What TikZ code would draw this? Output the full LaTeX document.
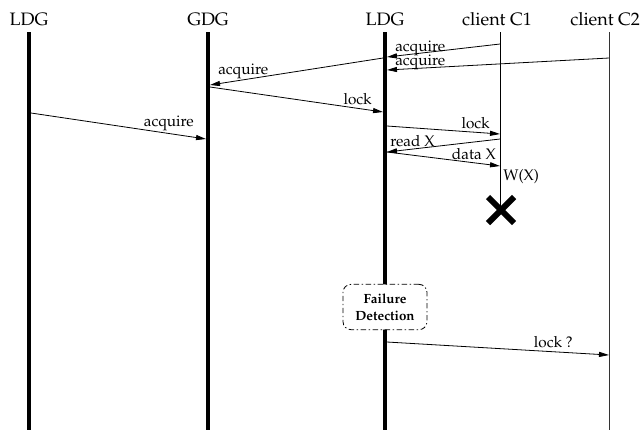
\documentclass[tikz,border=0pt]{standalone}
\usepackage[T1]{fontenc}
\usepackage{mathpazo}
\usetikzlibrary{arrows.meta,positioning}

\begin{document}
\begin{tikzpicture}[
    x=0.75pt, y=-0.75pt,
    lifeline/.style={line width=3pt},
    clientline/.style={line width=0.7pt},
    msg/.style={-{Triangle[length=7.5pt,width=3.8pt]}, line width=0.6pt},
    head/.style={font=\fontsize{13.5}{16}\selectfont, anchor=base, inner sep=0pt},
    lbl/.style={font=\fontsize{11.5}{13}\selectfont, inner sep=0pt},
    detect/.style={draw, dash pattern=on 4pt off 2pt on 1pt off 2pt, rounded corners=6pt,
        line width=0.6pt, fill=white, align=center, minimum width=63pt, minimum height=34pt,
        inner sep=2pt, font=\fontsize{10}{12.5}\selectfont\bfseries},
    crash/.style={line width=4.5pt}
]
\useasboundingbox (0,0) rectangle (641,430);

% Lifeline heads
\node[head] (ldgA) at (29,25) {LDG};
\node[head] (gdg) at (208,25) {GDG};
\node[head] (ldgB) at (385,25) {LDG};
\node[head] (cOne) at (497,25) {client C1};
\node[head, anchor=base west] (cTwo) at (570,25) {client C2};

% Lifelines
\coordinate (ldgA-top) at (29,32);   \coordinate (ldgA-bot) at (29,430);
\coordinate (gdg-top) at (208,32);   \coordinate (gdg-bot) at (208,430);
\coordinate (ldgB-top) at (385,32);  \coordinate (ldgB-bot) at (385,430);
\coordinate (cOne-top) at (500,32);  \coordinate (cOne-bot) at (500,210);
\coordinate (cTwo-top) at (609,32);  \coordinate (cTwo-bot) at (609,430);
\draw[lifeline] (ldgA-top) -- (ldgA-bot);
\draw[lifeline] (gdg-top) -- (gdg-bot);
\draw[lifeline] (ldgB-top) -- (ldgB-bot);
\draw[clientline] (cOne-top) -- (cOne-bot);
\draw[clientline, black!80] (cTwo-top) -- (cTwo-bot);

% Message end points
\coordinate (acqOne-s) at (500,44);  \coordinate (acqOne-e) at (387,57);
\coordinate (acqTwo-s) at (609,58);  \coordinate (acqTwo-e) at (387,70);
\coordinate (acqG-s) at (383,58);    \coordinate (acqG-e) at (210,85);
\coordinate (lockG-s) at (210,87);   \coordinate (lockG-e) at (383,112);
\coordinate (acqA-s) at (31,113);    \coordinate (acqA-e) at (206,139);
\coordinate (lockC-s) at (387,126);  \coordinate (lockC-e) at (500,134);
\coordinate (read-s) at (500,139);   \coordinate (read-e) at (387,152);
\coordinate (data-s) at (387,152);   \coordinate (data-e) at (500,166);
\coordinate (lockQ-s) at (387,342);  \coordinate (lockQ-e) at (609,355);

% Messages
\draw[msg] (acqOne-s) -- (acqOne-e);
\draw[msg] (acqTwo-s) -- (acqTwo-e);
\draw[msg] (acqG-s) -- (acqG-e);
\draw[msg] (lockG-s) -- (lockG-e);
\draw[msg] (acqA-s) -- (acqA-e);
\draw[msg] (lockC-s) -- (lockC-e);
\draw[msg] (read-s) -- (read-e);
\draw[msg] (data-s) -- (data-e);
\draw[msg] (lockQ-s) -- (lockQ-e);

% Message labels
\node[lbl, anchor=base west] (acqOne-l) at (395,51) {acquire};
\node[lbl, anchor=base west] (acqTwo-l) at (395,65) {acquire};
\node[lbl, anchor=base west] (acqG-l) at (218,74) {acquire};
\node[lbl, anchor=base east] (lockG-l) at (372,104) {lock};
\node[lbl, anchor=base east] (acqA-l) at (194,126) {acquire};
\node[lbl, anchor=base east] (lockC-l) at (490,128) {lock};
\node[lbl, anchor=base west] (read-l) at (390,146) {read X};
\node[lbl, anchor=base east] (data-l) at (496,159) {data X};
\node[lbl, anchor=base west] (write-l) at (503,180) {W(X)};
\node[lbl, anchor=base east] (lockQ-l) at (573,347) {lock ?};

% Crash of client C1
\coordinate (crash) at (501,210);
\draw[crash] ([shift={(-13,-13)}]crash) -- ([shift={(13,13)}]crash);
\draw[crash] ([shift={(-13,13)}]crash) -- ([shift={(13,-13)}]crash);

% Failure detection
\node[detect] (fail) at (385,307) {Failure\\Detection};

\end{tikzpicture}
\end{document}
